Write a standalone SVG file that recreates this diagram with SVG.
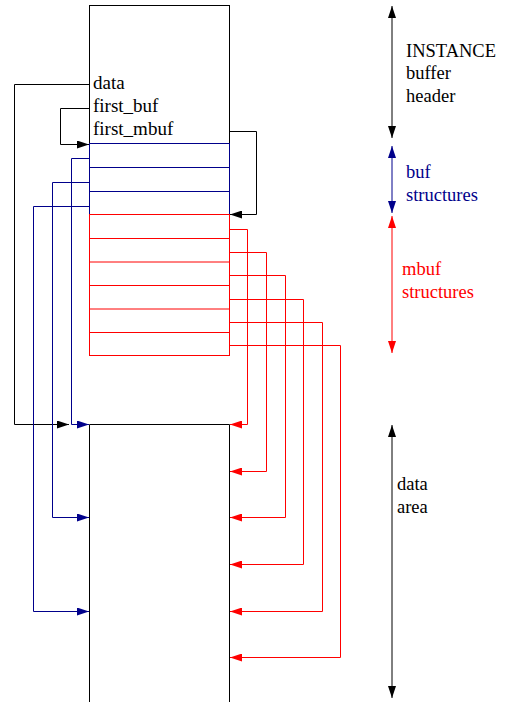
<svg xmlns="http://www.w3.org/2000/svg" width="505" height="702" viewBox="0 0 505 702">
<style>
text{font-family:"Liberation Serif","Times New Roman",serif;font-size:18.5px}
.lbl{font-size:19px}
.k{stroke:#000;fill:none;stroke-width:1}
.b{stroke:#00008b;fill:none;stroke-width:1}
.r{stroke:#ff0000;fill:none;stroke-width:1}
.tk{fill:#000}.tb{fill:#00008b}.tr{fill:#ff0000}
</style>
<defs>
<marker id="ak" markerUnits="userSpaceOnUse" markerWidth="12" markerHeight="8" refX="12" refY="4" orient="auto"><path d="M0,0 L12,4 L0,8 z" fill="#000"/></marker>
<marker id="ab" markerUnits="userSpaceOnUse" markerWidth="12" markerHeight="8" refX="12" refY="4" orient="auto"><path d="M0,0 L12,4 L0,8 z" fill="#00008b"/></marker>
<marker id="ar" markerUnits="userSpaceOnUse" markerWidth="12" markerHeight="8" refX="12" refY="4" orient="auto"><path d="M0,0 L12,4 L0,8 z" fill="#ff0000"/></marker>
<marker id="sk" markerUnits="userSpaceOnUse" markerWidth="12" markerHeight="8" refX="12" refY="4" orient="auto-start-reverse"><path d="M0,0 L12,4 L0,8 z" fill="#000"/></marker>
<marker id="sb" markerUnits="userSpaceOnUse" markerWidth="12" markerHeight="8" refX="12" refY="4" orient="auto-start-reverse"><path d="M0,0 L12,4 L0,8 z" fill="#00008b"/></marker>
<marker id="sr" markerUnits="userSpaceOnUse" markerWidth="12" markerHeight="8" refX="12" refY="4" orient="auto-start-reverse"><path d="M0,0 L12,4 L0,8 z" fill="#ff0000"/></marker>
</defs>
<rect width="505" height="702" fill="#fff"/>
<g id="header">
<rect class="k" x="89.5" y="5.5" width="140" height="138"/>
<text x="93" y="89" class="tk lbl">data</text>
<text x="93" y="112" class="tk lbl">first_buf</text>
<text x="93" y="135" class="tk lbl">first_mbuf</text>
</g>
<g id="buf-structures">
<rect class="b" stroke="#00008b" x="89.5" y="143.5" width="140" height="71"/>
<line class="b" stroke="#00008b" x1="89.5" y1="167.5" x2="229.5" y2="167.5"/>
<line class="b" stroke="#00008b" x1="89.5" y1="191.5" x2="229.5" y2="191.5"/>
</g>
<g id="mbuf-structures">
<rect class="r" stroke="#ff0000" x="89.5" y="214.5" width="140" height="141"/>
<line class="r" stroke="#ff0000" x1="89.5" y1="238.5" x2="229.5" y2="238.5"/>
<line class="r" stroke="#ff0000" x1="89.5" y1="262" x2="229.5" y2="262"/>
<line class="r" stroke="#ff0000" x1="89.5" y1="285.5" x2="229.5" y2="285.5"/>
<line class="r" stroke="#ff0000" x1="89.5" y1="309" x2="229.5" y2="309"/>
<line class="r" stroke="#ff0000" x1="89.5" y1="332.5" x2="229.5" y2="332.5"/>
</g>
<g id="data-area">
<path class="k" d="M89.5,702 V424.5 H229.5 V702"/>
</g>
<g id="connectors">
<path class="k" d="M89.5,84.5 H14.5 V424.5 H69" marker-end="url(#ak)"/>
<path class="k" d="M89.5,108.5 H60.5 V144.5 H89" marker-end="url(#ak)"/>
<path class="k" d="M229.5,131.5 H256.5 V214.5 H230" marker-end="url(#ak)"/>
<path class="b" d="M89.5,158.5 H71.5 V424.5 H89" marker-end="url(#ab)"/>
<path class="b" d="M89.5,182.5 H52.5 V517.5 H89" marker-end="url(#ab)"/>
<path class="b" d="M89.5,206.5 H33.5 V611.5 H89" marker-end="url(#ab)"/>
<path class="r" d="M229.5,229.5 H247.5 V424.5 H230" marker-end="url(#ar)"/>
<path class="r" d="M229.5,252.5 H266.5 V471.5 H230" marker-end="url(#ar)"/>
<path class="r" d="M229.5,275.5 H285.5 V517.5 H230" marker-end="url(#ar)"/>
<path class="r" d="M229.5,299.5 H303.5 V564.5 H230" marker-end="url(#ar)"/>
<path class="r" d="M229.5,322.5 H322.5 V611.5 H230" marker-end="url(#ar)"/>
<path class="r" d="M229.5,345.5 H340.5 V657.5 H230" marker-end="url(#ar)"/>
</g>
<g id="dim-header">
<line class="k" x1="392" y1="6" x2="392" y2="138" marker-start="url(#sk)" marker-end="url(#sk)"/>
<text x="406" y="57" class="tk">INSTANCE</text>
<text x="406" y="79" class="tk">buffer</text>
<text x="406" y="102" class="tk">header</text>
</g>
<g id="dim-buf">
<line class="b" x1="392" y1="146" x2="392" y2="213" marker-start="url(#sb)" marker-end="url(#sb)"/>
<text x="406" y="178" class="tb">buf</text>
<text x="406" y="201" class="tb">structures</text>
</g>
<g id="dim-mbuf">
<line class="r" x1="392" y1="216" x2="392" y2="353" marker-start="url(#sr)" marker-end="url(#sr)"/>
<text x="402" y="275" class="tr">mbuf</text>
<text x="402" y="298" class="tr">structures</text>
</g>
<g id="dim-data">
<line class="k" x1="392" y1="425" x2="392" y2="698" marker-start="url(#sk)" marker-end="url(#sk)"/>
<text x="397" y="490" class="tk">data</text>
<text x="397" y="513" class="tk">area</text>
</g>
</svg>
